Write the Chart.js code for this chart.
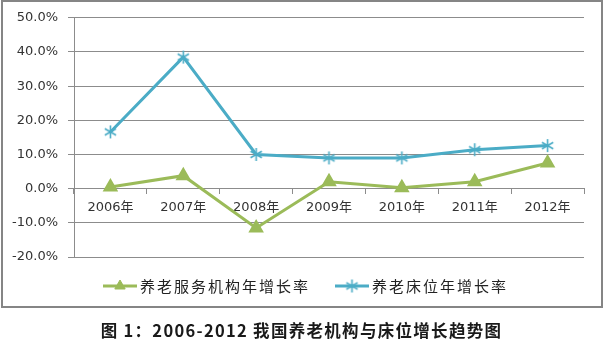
<!DOCTYPE html>
<html>
<head>
<meta charset="utf-8">
<script src="https://cdn.jsdelivr.net/npm/chart.js@4.4.1/dist/chart.umd.min.js"></script>
<style>
  html, body { margin: 0; padding: 0; background: #fff; }
  #wrap { position: relative; width: 603px; height: 343px; overflow: hidden; }
  #chart { position: absolute; left: 0; top: 0; }
  #box { position: absolute; left: 1px; top: 0; width: 598px; height: 304px; border: 2px solid #858585; }
  #caption { position: absolute; left: 0; width: 603px; top: 318px; text-align: center;
    font: bold 16.5px "Noto Sans CJK SC", "DejaVu Sans", sans-serif; letter-spacing: 1.3px; color: #1a1a1a; }
</style>
</head>
<body>
<div id="wrap">
  <canvas id="chart" width="603" height="343"></canvas>
  <div id="box"></div>
  <div id="caption">图 1：2006-2012 我国养老机构与床位增长趋势图</div>
</div>
<script>
// chart data
var categories = ["2006年", "2007年", "2008年", "2009年", "2010年", "2011年", "2012年"];
var institutionGrowth = [0.5, 3.8, -11.5, 2.0, 0.3, 2.0, 7.5];   // 养老服务机构年增长率 (%)
var bedGrowth = [16.6, 38.5, 10.0, 9.0, 9.0, 11.4, 12.6];         // 养老床位年增长率 (%)
var seriesNames = ["养老服务机构年增长率", "养老床位年增长率"];
var yMin = -20, yMax = 50, yStep = 10;

var GREEN = "#9BBB59", BLUE = "#4BACC6";
var FONT = '"DejaVu Sans", "Noto Sans CJK SC", sans-serif';

// Excel style asterisk marker: an X plus a vertical stroke
function makeStar(size, color) {
  var c = document.createElement("canvas");
  c.width = size; c.height = size;
  var g = c.getContext("2d");
  var m = size / 2, r = size / 2 - 1;
  g.strokeStyle = color; g.lineWidth = 1.6;
  g.beginPath();
  g.moveTo(m - r * 0.87, m - r * 0.5); g.lineTo(m + r * 0.87, m + r * 0.5);
  g.moveTo(m - r * 0.87, m + r * 0.5); g.lineTo(m + r * 0.87, m - r * 0.5);
  g.moveTo(m, m - r); g.lineTo(m, m + r);
  g.stroke();
  return c;
}
var starMarker = makeStar(15, BLUE);

// legend drawn like Excel: a short line with the marker in the middle
var legendPlugin = {
  id: "excelLegend",
  afterDraw: function(chart) {
    var ctx = chart.ctx;
    var items = [
      { x: 103, ds: 0 },
      { x: 335, ds: 1 }
    ];
    var y = 286;
    ctx.save();
    items.forEach(function(it) {
      var ds = chart.data.datasets[it.ds];
      ctx.strokeStyle = ds.borderColor;
      ctx.lineWidth = 3;
      ctx.beginPath();
      ctx.moveTo(it.x, y); ctx.lineTo(it.x + 34, y);
      ctx.stroke();
      ctx.fillStyle = ds.pointBackgroundColor || ds.borderColor;
      ctx.strokeStyle = ds.pointBorderColor || ds.borderColor;
      ctx.lineWidth = 1;
      Chart.helpers.drawPoint(ctx, {
        pointStyle: ds.pointStyle, radius: ds.pointRadius, borderWidth: 1, rotation: 0
      }, it.x + 17, y);
      ctx.fillStyle = "#222";
      ctx.font = '15px "Noto Sans CJK SC", sans-serif';
      ctx.letterSpacing = "2px";
      ctx.textBaseline = "middle";
      ctx.textAlign = "left";
      ctx.fillText(ds.label, it.x + 37, y);
    });
    ctx.restore();
  }
};

new Chart(document.getElementById("chart"), {
  type: "line",
  data: {
    labels: categories,
    datasets: [
      {
        label: seriesNames[0],
        data: institutionGrowth,
        borderColor: GREEN,
        borderWidth: 3,
        pointStyle: "triangle",
        pointRadius: 6,
        pointBackgroundColor: GREEN,
        pointBorderColor: GREEN,
        tension: 0
      },
      {
        label: seriesNames[1],
        data: bedGrowth,
        borderColor: BLUE,
        borderWidth: 3,
        pointStyle: starMarker,
        pointRadius: 7,
        tension: 0
      }
    ]
  },
  options: {
    responsive: false,
    animation: false,
    layout: { padding: { left: 0, top: 16, right: 19, bottom: 86 } },
    plugins: { legend: { display: false }, tooltip: { enabled: false } },
    scales: {
      x: {
        type: "category",
        position: { y: 0 },
        offset: true,
        grid: { display: true, drawOnChartArea: false, drawTicks: true, tickLength: 5, offset: true, color: "#8c8c8c" },
        border: { display: true, color: "#8c8c8c", width: 1 },
        ticks: { color: "#333", font: { family: FONT, size: 13 }, padding: 6, maxRotation: 0, autoSkip: false }
      },
      y: {
        min: yMin,
        max: yMax,
        afterFit: function(scale) { scale.width = 74; },
        grid: { color: "#8c8c8c", tickLength: 6 },
        border: { display: true, color: "#8c8c8c", width: 1 },
        ticks: {
          stepSize: yStep,
          padding: 10,
          color: "#333",
          font: { family: FONT, size: 13 },
          callback: function(v) { return v.toFixed(1) + "%"; }
        }
      }
    }
  },
  plugins: [legendPlugin]
});
</script>
</body>
</html>
